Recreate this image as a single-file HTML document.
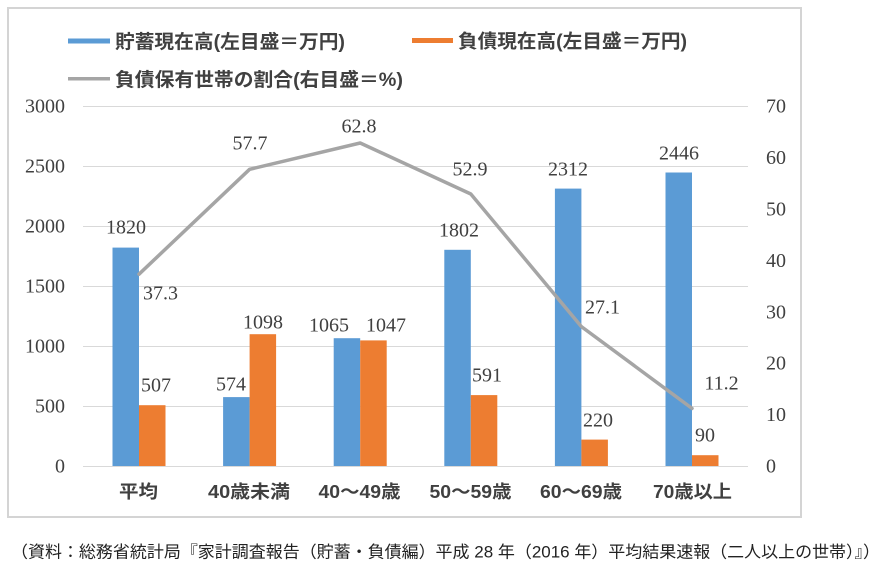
<!DOCTYPE html>
<html>
<head>
<meta charset="utf-8">
<style>
  html,body{margin:0;padding:0;background:#fff;}
  svg{display:block;}
  .num{font-family:"Liberation Serif","DejaVu Serif",serif;font-size:20px;fill:#404040;}
  .jp{font-family:"Liberation Sans","Noto Sans CJK JP",sans-serif;fill:#404040;}
</style>
</head>
<body>
<svg width="891" height="573" viewBox="0 0 891 573" xmlns="http://www.w3.org/2000/svg">
  <rect x="0" y="0" width="891" height="573" fill="#fff"/>
  <!-- frame -->
  <rect x="8" y="8" width="793" height="509" fill="none" stroke="#d4d4d4" stroke-width="2"/>

  <!-- legend -->
  <rect x="68" y="38.5" width="42" height="5" fill="#5b9bd5"/>
  <text class="jp" x="115" y="48" font-size="19" font-weight="bold" textLength="230" lengthAdjust="spacingAndGlyphs">貯蓄現在高(左目盛＝万円)</text>
  <rect x="412" y="38" width="41" height="5" fill="#ed7d31"/>
  <text class="jp" x="458" y="47.6" font-size="19" font-weight="bold" textLength="229" lengthAdjust="spacingAndGlyphs">負債現在高(左目盛＝万円)</text>
  <rect x="68" y="77" width="42" height="3.5" fill="#a5a5a5"/>
  <text class="jp" x="115" y="86" font-size="19" font-weight="bold" textLength="288" lengthAdjust="spacingAndGlyphs">負債保有世帯の割合(右目盛＝%)</text>

  <!-- gridlines -->
  <g stroke="#d9d9d9" stroke-width="1">
    <line x1="83" y1="106.5" x2="748" y2="106.5"/>
    <line x1="83" y1="166.5" x2="748" y2="166.5"/>
    <line x1="83" y1="226.5" x2="748" y2="226.5"/>
    <line x1="83" y1="286.5" x2="748" y2="286.5"/>
    <line x1="83" y1="346.5" x2="748" y2="346.5"/>
    <line x1="83" y1="406.5" x2="748" y2="406.5"/>
    <line x1="83" y1="466.5" x2="748" y2="466.5"/>
  </g>

  <!-- left axis labels -->
  <g class="num" text-anchor="end">
    <text x="65" y="112.6">3000</text>
    <text x="65" y="172.6">2500</text>
    <text x="65" y="232.6">2000</text>
    <text x="65" y="292.6">1500</text>
    <text x="65" y="352.6">1000</text>
    <text x="65" y="412.6">500</text>
    <text x="65" y="472.6">0</text>
  </g>

  <!-- right axis labels -->
  <g class="num" text-anchor="start">
    <text x="766" y="112.6">70</text>
    <text x="766" y="164">60</text>
    <text x="766" y="215.5">50</text>
    <text x="766" y="266.9">40</text>
    <text x="766" y="318.3">30</text>
    <text x="766" y="369.7">20</text>
    <text x="766" y="421.2">10</text>
    <text x="766" y="472.6">0</text>
  </g>

  <!-- bars: blue -->
  <g fill="#5b9bd5">
    <rect x="112.5" y="247.6" width="26.5" height="218.4"/>
    <rect x="223.1" y="397.1" width="26.5" height="68.9"/>
    <rect x="333.7" y="338.2" width="26.5" height="127.8"/>
    <rect x="444.3" y="249.8" width="26.5" height="216.2"/>
    <rect x="554.9" y="188.6" width="26.5" height="277.4"/>
    <rect x="665.5" y="172.5" width="26.5" height="293.5"/>
  </g>
  <!-- bars: orange -->
  <g fill="#ed7d31">
    <rect x="139" y="405.2" width="26.5" height="60.8"/>
    <rect x="249.6" y="334.2" width="26.5" height="131.8"/>
    <rect x="360.2" y="340.4" width="26.5" height="125.6"/>
    <rect x="470.8" y="395.1" width="26.5" height="70.9"/>
    <rect x="581.4" y="439.6" width="26.5" height="26.4"/>
    <rect x="692" y="455.2" width="26.5" height="10.8"/>
  </g>

  <!-- line -->
  <polyline points="139,274.2 249.6,169.3 360.2,143 470.8,194 581.4,326.6 692,408.4"
    fill="none" stroke="#a5a5a5" stroke-width="3.5" stroke-linejoin="round" stroke-linecap="round"/>

  <!-- data labels -->
  <g class="num" text-anchor="middle">
    <text x="126" y="233.6">1820</text>
    <text x="156" y="391.6">507</text>
    <text x="160.5" y="299.6">37.3</text>
    <text x="231" y="390.6">574</text>
    <text x="263" y="328.6">1098</text>
    <text x="250" y="149.6">57.7</text>
    <text x="329" y="331.6">1065</text>
    <text x="386" y="331.6">1047</text>
    <text x="359" y="132.6">62.8</text>
    <text x="459" y="236.6">1802</text>
    <text x="487" y="381.6">591</text>
    <text x="470" y="175.6">52.9</text>
    <text x="568" y="175.6">2312</text>
    <text x="598" y="426.6">220</text>
    <text x="602.5" y="313.6">27.1</text>
    <text x="679" y="159.6">2446</text>
    <text x="705" y="441.6">90</text>
    <text x="721.5" y="389.6">11.2</text>
  </g>

  <!-- category labels -->
  <g class="jp" font-size="18" font-weight="bold" text-anchor="middle">
    <text x="138.5" y="497.8" textLength="39" lengthAdjust="spacingAndGlyphs">平均</text>
    <text x="249" y="497.8" textLength="82" lengthAdjust="spacingAndGlyphs">40歳未満</text>
    <text x="359.5" y="497.8" textLength="82" lengthAdjust="spacingAndGlyphs">40～49歳</text>
    <text x="470.5" y="497.8" textLength="82" lengthAdjust="spacingAndGlyphs">50～59歳</text>
    <text x="581" y="497.8" textLength="82" lengthAdjust="spacingAndGlyphs">60～69歳</text>
    <text x="692.5" y="497.8" textLength="79" lengthAdjust="spacingAndGlyphs">70歳以上</text>
  </g>

  <!-- source caption -->
  <text x="11" y="557.5" font-family="'Liberation Sans','Noto Sans CJK JP',sans-serif" font-size="16.5" fill="#222" textLength="869" lengthAdjust="spacingAndGlyphs">（資料：総務省統計局『家計調査報告（貯蓄・負債編）平成 28 年（2016 年）平均結果速報（二人以上の世帯）』）</text>
</svg>
</body>
</html>
